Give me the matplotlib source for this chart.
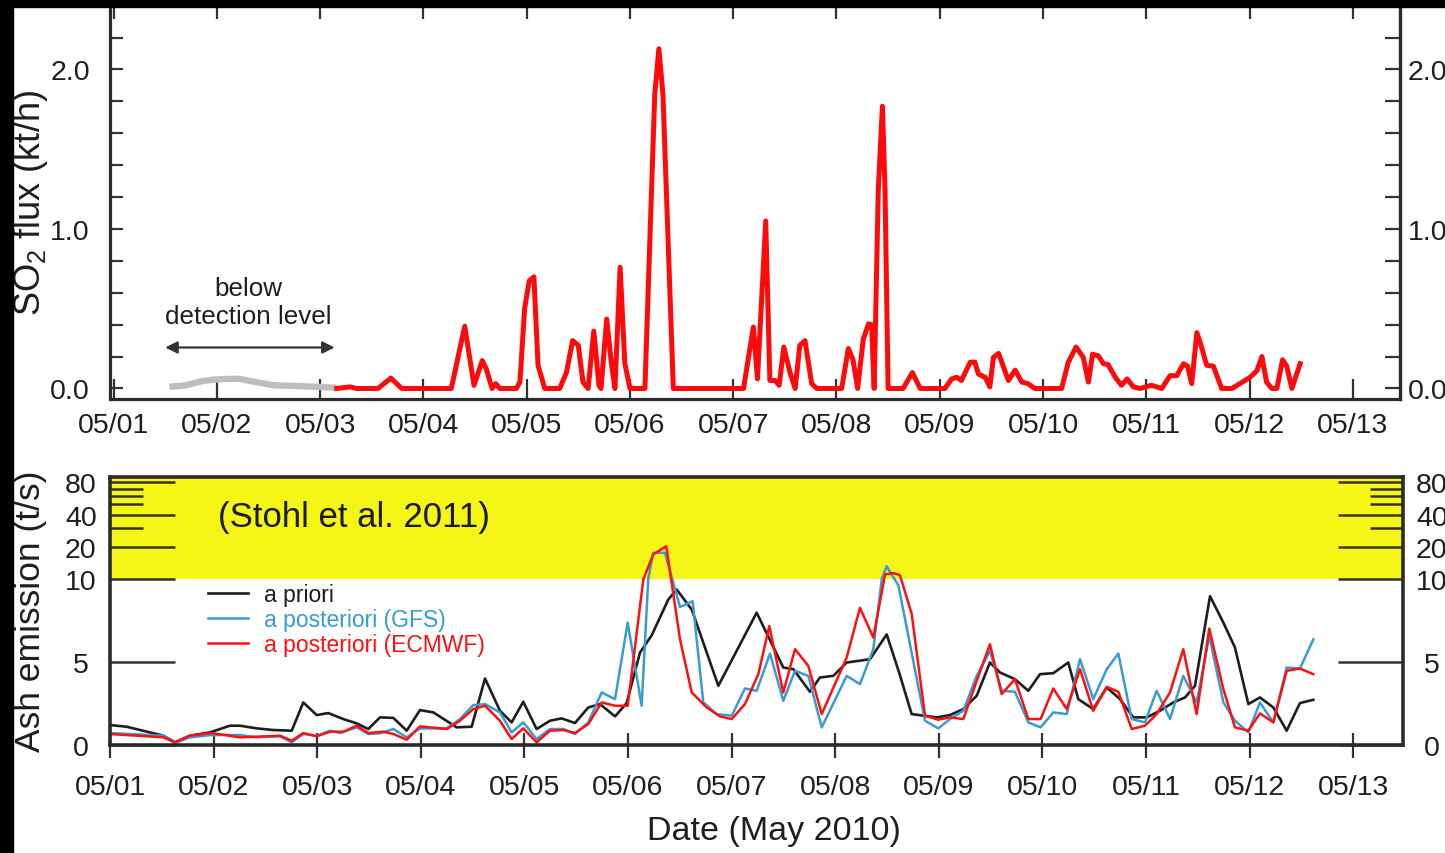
import numpy as np
import matplotlib
matplotlib.use("Agg")
import matplotlib.pyplot as plt
from matplotlib.patches import Rectangle
from matplotlib.ticker import FixedLocator, MultipleLocator, FormatStrFormatter

plt.rcParams['font.family'] = ['Liberation Sans', 'DejaVu Sans']
plt.rcParams['mathtext.fontset'] = 'custom'
plt.rcParams['mathtext.rm'] = 'Liberation Sans'
plt.rcParams['mathtext.it'] = 'Liberation Sans:italic'
plt.rcParams['mathtext.bf'] = 'Liberation Sans:bold'

# ---------------------------------------------------------------- data
# time axis: days since 2010-05-01 00 UTC
date_labels = ['05/01', '05/02', '05/03', '05/04', '05/05', '05/06', '05/07',
               '05/08', '05/09', '05/10', '05/11', '05/12', '05/13']

# SO2 flux below detection level (kt/h)
so2_bdl_t = [0.54, 0.70, 0.85, 0.96, 1.10, 1.22, 1.38, 1.55, 1.80, 2.13, 2.16]
so2_bdl = [0.01, 0.02, 0.045, 0.055, 0.06, 0.06, 0.04, 0.02, 0.015, 0.005, 0.005]

# retrieved SO2 flux (kt/h)
so2_t = [2.16, 2.29, 2.35, 2.56, 2.685, 2.79, 3.27, 3.40, 3.49, 3.57, 3.61, 3.665,
         3.70, 3.74, 3.90, 3.935, 3.98, 4.025, 4.07, 4.11, 4.175, 4.32, 4.385,
         4.445, 4.50, 4.545, 4.595, 4.65, 4.70, 4.72, 4.775, 4.82, 4.855, 4.905,
         4.95, 5.0, 5.145, 5.24, 5.28, 5.32, 5.42, 6.10, 6.195, 6.235, 6.315,
         6.355, 6.405, 6.445, 6.49, 6.55, 6.60, 6.645, 6.695, 6.76, 6.81, 7.05,
         7.115, 7.16, 7.205, 7.26, 7.31, 7.34, 7.365, 7.405, 7.445, 7.47, 7.50,
         7.645, 7.735, 7.81, 8.05, 8.115, 8.165, 8.21, 8.295, 8.34, 8.375, 8.44,
         8.485, 8.52, 8.57, 8.665, 8.73, 8.795, 8.855, 8.92, 9.18, 9.245, 9.32,
         9.39, 9.44, 9.48, 9.535, 9.585, 9.63, 9.70, 9.76, 9.815, 9.875, 9.94,
         10.05, 10.15, 10.23, 10.295, 10.36, 10.40, 10.44, 10.49, 10.535, 10.585,
         10.65, 10.73, 10.83, 10.905, 11.005, 11.07, 11.12, 11.165, 11.215,
         11.265, 11.32, 11.36, 11.41, 11.49]
so2 = [0.0, 0.01, 0.0, 0.0, 0.065, 0.0, 0.0, 0.39, 0.02, 0.175, 0.12, 0.0,
       0.03, 0.0, 0.0, 0.04, 0.50, 0.675, 0.70, 0.145, 0.0, 0.0, 0.10,
       0.30, 0.27, 0.04, 0.0, 0.36, 0.02, 0.0, 0.435, 0.16, 0.0, 0.76,
       0.16, 0.0, 0.0, 1.84, 2.13, 1.84, 0.0, 0.0, 0.385, 0.06, 1.05,
       0.05, 0.05, 0.02, 0.26, 0.10, 0.0, 0.27, 0.30, 0.03, 0.0, 0.0,
       0.25, 0.18, 0.0, 0.31, 0.405, 0.40, 0.0, 1.25, 1.77, 1.25, 0.0,
       0.0, 0.10, 0.0, 0.0, 0.06, 0.07, 0.05, 0.165, 0.165, 0.09, 0.07,
       0.01, 0.195, 0.22, 0.05, 0.115, 0.04, 0.03, 0.0, 0.0, 0.165, 0.26,
       0.195, 0.04, 0.215, 0.205, 0.155, 0.15, 0.07, 0.02, 0.06, 0.01, 0.0,
       0.02, 0.0, 0.08, 0.08, 0.155, 0.14, 0.03, 0.35, 0.26, 0.145,
       0.14, 0.0, 0.0, 0.03, 0.07, 0.11, 0.20, 0.04, 0.0,
       0.0, 0.18, 0.14, 0.0, 0.155]

# ash emission (t/s), a priori
prior_t = [0.0, 0.16, 0.515, 0.627, 0.772, 0.965, 1.158, 1.255, 1.416, 1.577,
           1.754, 1.866, 1.995, 2.107, 2.252, 2.381, 2.493, 2.606, 2.735, 2.864,
           2.992, 3.121, 3.347, 3.491, 3.620, 3.764, 3.877, 3.989, 4.118, 4.247,
           4.36, 4.488, 4.617, 4.73, 4.875, 4.987, 5.116, 5.229, 5.389, 5.47,
           5.615, 5.872, 6.242, 6.499, 6.596, 6.757, 6.853, 6.982, 7.111, 7.336,
           7.497, 7.62, 7.738, 7.98, 8.108, 8.237, 8.366, 8.494, 8.591, 8.735,
           8.864, 8.977, 9.105, 9.25, 9.346, 9.491, 9.621, 9.749, 9.878, 10.007,
           10.135, 10.264, 10.377, 10.473, 10.618, 10.747, 10.859, 10.988, 11.1,
           11.229, 11.358, 11.486, 11.615]
prior = [1.2, 1.1, 0.56, 0.16, 0.56, 0.76, 1.16, 1.16, 1.0, 0.9,
         0.86, 2.56, 1.80, 1.92, 1.56, 1.3, 0.96, 1.66, 1.63, 0.86,
         2.10, 1.96, 1.06, 1.1, 4.0, 2.06, 1.36, 2.60, 0.96, 1.46,
         1.6, 1.32, 2.26, 2.46, 1.72, 2.52, 5.56, 6.6, 8.75, 9.35,
         8.15, 3.56, 7.96, 4.66, 4.56, 3.2, 4.06, 4.16, 4.96, 5.16,
         6.65, 4.3, 1.86, 1.66, 1.8, 2.16, 2.96, 4.96, 4.36, 3.96,
         3.26, 4.26, 4.32, 4.96, 2.76, 2.16, 3.46, 2.76, 1.66, 1.66,
         2.06, 2.56, 2.86, 3.56, 8.95, 7.36, 5.86, 2.46, 2.86,
         2.26, 0.86, 2.52, 2.72]

# ash emission (t/s), a posteriori with GFS
gfs_t = [0.0, 0.515, 0.627, 0.772, 0.981, 1.255, 1.416, 1.641, 1.754, 1.866,
         1.995, 2.124, 2.22, 2.381, 2.493, 2.606, 2.735, 2.864, 2.992, 3.25,
         3.378, 3.507, 3.62, 3.764, 3.877, 3.989, 4.118, 4.247, 4.376, 4.488,
         4.617, 4.746, 4.875, 4.997, 5.132, 5.196, 5.244, 5.357, 5.502, 5.624,
         5.727, 5.856, 6.001, 6.129, 6.242, 6.371, 6.499, 6.612, 6.741, 6.87,
         7.111, 7.239, 7.368, 7.449, 7.497, 7.61, 7.867, 7.995, 8.108, 8.237,
         8.366, 8.494, 8.607, 8.735, 8.864, 8.983, 9.105, 9.235, 9.363, 9.491,
         9.621, 9.733, 9.862, 9.99, 10.103, 10.232, 10.36, 10.489, 10.611,
         10.747, 10.859, 10.988, 11.1, 11.229, 11.358, 11.486, 11.615]
gfs = [0.72, 0.56, 0.12, 0.46, 0.6, 0.6, 0.46, 0.52, 0.16, 0.66,
       0.56, 0.86, 0.72, 1.06, 0.66, 0.7, 0.96, 0.46, 1.0, 1.0,
       1.56, 2.4, 2.46, 1.96, 0.76, 1.36, 0.36, 0.96, 0.96, 0.66,
       1.36, 3.16, 2.76, 7.36, 2.36, 10.05, 17.5, 17.5, 8.3, 8.65,
       2.56, 1.86, 1.76, 3.4, 3.26, 5.5, 2.66, 4.46, 4.16, 1.06,
       4.16, 3.66, 5.76, 9.96, 13.1, 9.6, 1.46, 1.0, 1.56, 2.06,
       4.16, 5.66, 3.26, 3.2, 1.36, 1.06, 1.96, 1.86, 5.16, 2.76,
       4.56, 5.5, 1.56, 1.36, 3.26, 1.56, 4.16, 2.56, 6.55,
       2.56, 1.46, 0.76, 2.56, 1.36, 4.66, 4.6, 6.35]

# ash emission (t/s), a posteriori with ECMWF
ecmwf_t = [0.0, 0.515, 0.627, 0.772, 0.981, 1.255, 1.641, 1.754, 1.866, 1.995,
           2.124, 2.252, 2.381, 2.493, 2.638, 2.735, 2.864, 2.992, 3.25, 3.378,
           3.507, 3.62, 3.764, 3.877, 3.989, 4.118, 4.247, 4.376, 4.488, 4.617,
           4.746, 4.875, 4.997, 5.148, 5.244, 5.369, 5.502, 5.615, 5.76, 5.888,
           6.001, 6.129, 6.258, 6.364, 6.499, 6.612, 6.741, 6.87, 7.111, 7.239,
           7.368, 7.481, 7.564, 7.625, 7.738, 7.867, 7.995, 8.108, 8.237, 8.366,
           8.494, 8.607, 8.735, 8.864, 8.983, 9.105, 9.235, 9.363, 9.491, 9.621,
           9.733, 9.862, 9.99, 10.103, 10.232, 10.36, 10.489, 10.611, 10.747,
           10.859, 10.988, 11.1, 11.229, 11.358, 11.486, 11.615]
ecmwf = [0.66, 0.46, 0.16, 0.56, 0.72, 0.46, 0.56, 0.26, 0.72, 0.52,
         0.8, 0.8, 1.16, 0.72, 0.8, 0.66, 0.32, 1.12, 0.96, 1.46,
         2.16, 2.36, 1.46, 0.36, 1.0, 0.16, 0.86, 0.9, 0.72, 1.26,
         2.56, 2.36, 2.36, 9.96, 16.9, 20.2, 6.36, 3.16, 2.26, 1.72,
         1.56, 2.46, 4.26, 7.15, 3.16, 5.76, 4.76, 1.86, 5.26, 8.25,
         6.46, 10.97, 11.3, 10.8, 7.9, 1.76, 1.52, 1.66, 1.56, 3.86,
         6.06, 3.06, 3.96, 1.56, 1.56, 3.4, 2.16, 4.56, 2.06, 3.5,
         3.2, 0.96, 1.16, 1.86, 3.16, 5.76, 1.86, 7.0, 3.36,
         1.06, 0.86, 1.9, 1.36, 4.46, 4.6, 4.26]

ash_major = [0, 5, 10, 20, 40, 80]
ash_minor = [30, 50, 60, 70]
so2_major = [0.0, 1.0, 2.0]

# ---------------------------------------------------------------- layout
W, H = 1445, 854
fig = plt.figure(figsize=(W / 100, H / 100), dpi=100, facecolor='white')


def fx(px):
    return px / W


def fy(py):
    return 1 - py / H


SPINE = '#2b2b2b'
TICKC = '#333333'
TXT = '#1e1e1e'
LBL = 20.5

# ---------------------------------------------------------------- SO2 panel
ax1 = fig.add_axes([fx(110), fy(400), fx(1400) - fx(110), fy(0) - fy(400)])
ax1.plot(so2_bdl_t, so2_bdl, color='#bdbdbd', lw=4.6, solid_capstyle='butt')
ax1.plot(so2_t, so2, color='#ff0a0a', lw=3.6, solid_joinstyle='round')
ax1.set_xlim(-0.035, 12.457)
ax1.set_ylim(-0.066, 2.442)
ax1.set_xticks(range(len(date_labels)))
ax1.set_xticklabels(date_labels)
ax1.yaxis.set_major_locator(FixedLocator(so2_major))
ax1.yaxis.set_minor_locator(MultipleLocator(0.2))
ax1.yaxis.set_major_formatter(FormatStrFormatter('%.1f'))
ax1.tick_params(axis='x', which='major', direction='in', length=14.4, width=1.6,
                color=TICKC, top=True, bottom=True, labelsize=LBL, pad=9.2,
                labelcolor=TXT)
ax1.tick_params(axis='y', which='both', direction='in', length=9.5, width=1.6,
                color=TICKC, left=True, right=False, labelsize=LBL, pad=14.4,
                labelcolor=TXT)
for s in ax1.spines.values():
    s.set_linewidth(2.3)
    s.set_color(SPINE)

sec = ax1.secondary_yaxis('right')
sec.yaxis.set_major_locator(FixedLocator(so2_major))
sec.yaxis.set_minor_locator(MultipleLocator(0.2))
sec.yaxis.set_major_formatter(FormatStrFormatter('%.1f'))
sec.tick_params(axis='y', which='both', direction='in', length=10.5, width=1.6,
                color=TICKC, labelsize=LBL, pad=5.8, labelcolor=TXT)
sec.spines['right'].set_linewidth(2.3)
sec.spines['right'].set_color(SPINE)

ax1.annotate('', xy=(0.50, 0.257), xytext=(2.14, 0.257),
             arrowprops=dict(arrowstyle='<|-|>', color='#333333', lw=1.6,
                             mutation_scale=18, shrinkA=0, shrinkB=0))
ax1.text(1.305, 0.542, 'below\ndetection level', ha='center', va='center',
         fontsize=18.7, color=TXT, linespacing=1.2)

fig.text(fx(30.8), fy(203), r'SO$_\mathrm{2}$ flux (kt/h)', rotation=90,
         ha='center', va='center', fontsize=26, color=TXT)

# ---------------------------------------------------------------- ash panel
LIN_TOP = 10.0
K = 1.93


def fwd(y):
    y = np.asarray(y, dtype=float)
    return np.where(y > LIN_TOP,
                    LIN_TOP + K * np.log2(np.maximum(y, LIN_TOP) / LIN_TOP), y)


def inv(t):
    t = np.asarray(t, dtype=float)
    return np.where(t > LIN_TOP,
                    LIN_TOP * 2.0 ** ((np.maximum(t, LIN_TOP) - LIN_TOP) / K), t)


ax2 = fig.add_axes([fx(110), fy(746), fx(1402.7) - fx(110), fy(478) - fy(746)])
ax2.set_yscale('function', functions=(fwd, inv))
ax2.set_ylim(0, 90)
ax2.set_xlim(0, 12.478)
ax2.axhspan(LIN_TOP, 90, color='#f5f516', lw=0, zorder=0.5)

l_prior, = ax2.plot(prior_t, prior, color='#1e1e1e', lw=1.9, label='a priori')
l_gfs, = ax2.plot(gfs_t, gfs, color='#3a9bd2', lw=1.8, label='a posteriori (GFS)')
l_ecm, = ax2.plot(ecmwf_t, ecmwf, color='#ff1010', lw=1.8,
                  label='a posteriori (ECMWF)')

ax2.set_xticks(range(len(date_labels)))
ax2.set_xticklabels(date_labels)
ax2.yaxis.set_major_locator(FixedLocator(ash_major))
ax2.yaxis.set_minor_locator(FixedLocator(ash_minor))
ax2.set_yticklabels([str(v) for v in ash_major])
ax2.yaxis.set_minor_formatter(plt.NullFormatter())
ax2.tick_params(axis='x', which='major', direction='inout', length=18, width=1.6,
                color=TICKC, top=False, bottom=True, labelsize=LBL, pad=11.8,
                labelcolor=TXT)
ax2.tick_params(axis='y', which='major', direction='in', length=46.8, width=1.8,
                color=TICKC, left=True, right=True, labelleft=True,
                labelright=True, labelsize=LBL, pad=21, labelcolor=TXT)
ax2.tick_params(axis='y', which='minor', direction='in', length=23.8, width=1.8,
                color=TICKC, left=True, right=True)
for t in ax2.yaxis.get_major_ticks():
    t.label1.set_horizontalalignment('center')
    t.label2.set_horizontalalignment('center')
for s in ax2.spines.values():
    s.set_linewidth(2.6)
    s.set_color(SPINE)

ax2.text((218 - 110) / 1292.7, (746 - 518) / 268, '(Stohl et al. 2011)',
         transform=ax2.transAxes, ha='left', va='center', fontsize=25,
         color='#1a1a1a')

leg = ax2.legend(handles=[l_prior, l_gfs, l_ecm], loc='upper left',
                 bbox_to_anchor=((208 - 110) / 1292.7, (746 - 584) / 268),
                 frameon=False, fontsize=16.5, handlelength=1.75,
                 handletextpad=0.7, labelspacing=0.08, borderpad=0,
                 borderaxespad=0, labelcolor='linecolor')

fig.text(fx(30.8), fy(611.5), 'Ash emission (t/s)', rotation=90,
         ha='center', va='center', fontsize=25.5, color=TXT)
fig.text(fx(773.5), fy(832), 'Date (May 2010)', ha='center', va='center',
         fontsize=24.5, color=TXT)

# dark frame along the top and left edges
fig.add_artist(Rectangle((0, fy(8.3)), 1, 8.3 / H + 0.01,
                         transform=fig.transFigure, color='black', zorder=20))
fig.add_artist(Rectangle((0, 0), fx(12.7), 1, transform=fig.transFigure,
                         color='black', zorder=20))

fig.savefig('out.png', dpi=100, facecolor='white')
